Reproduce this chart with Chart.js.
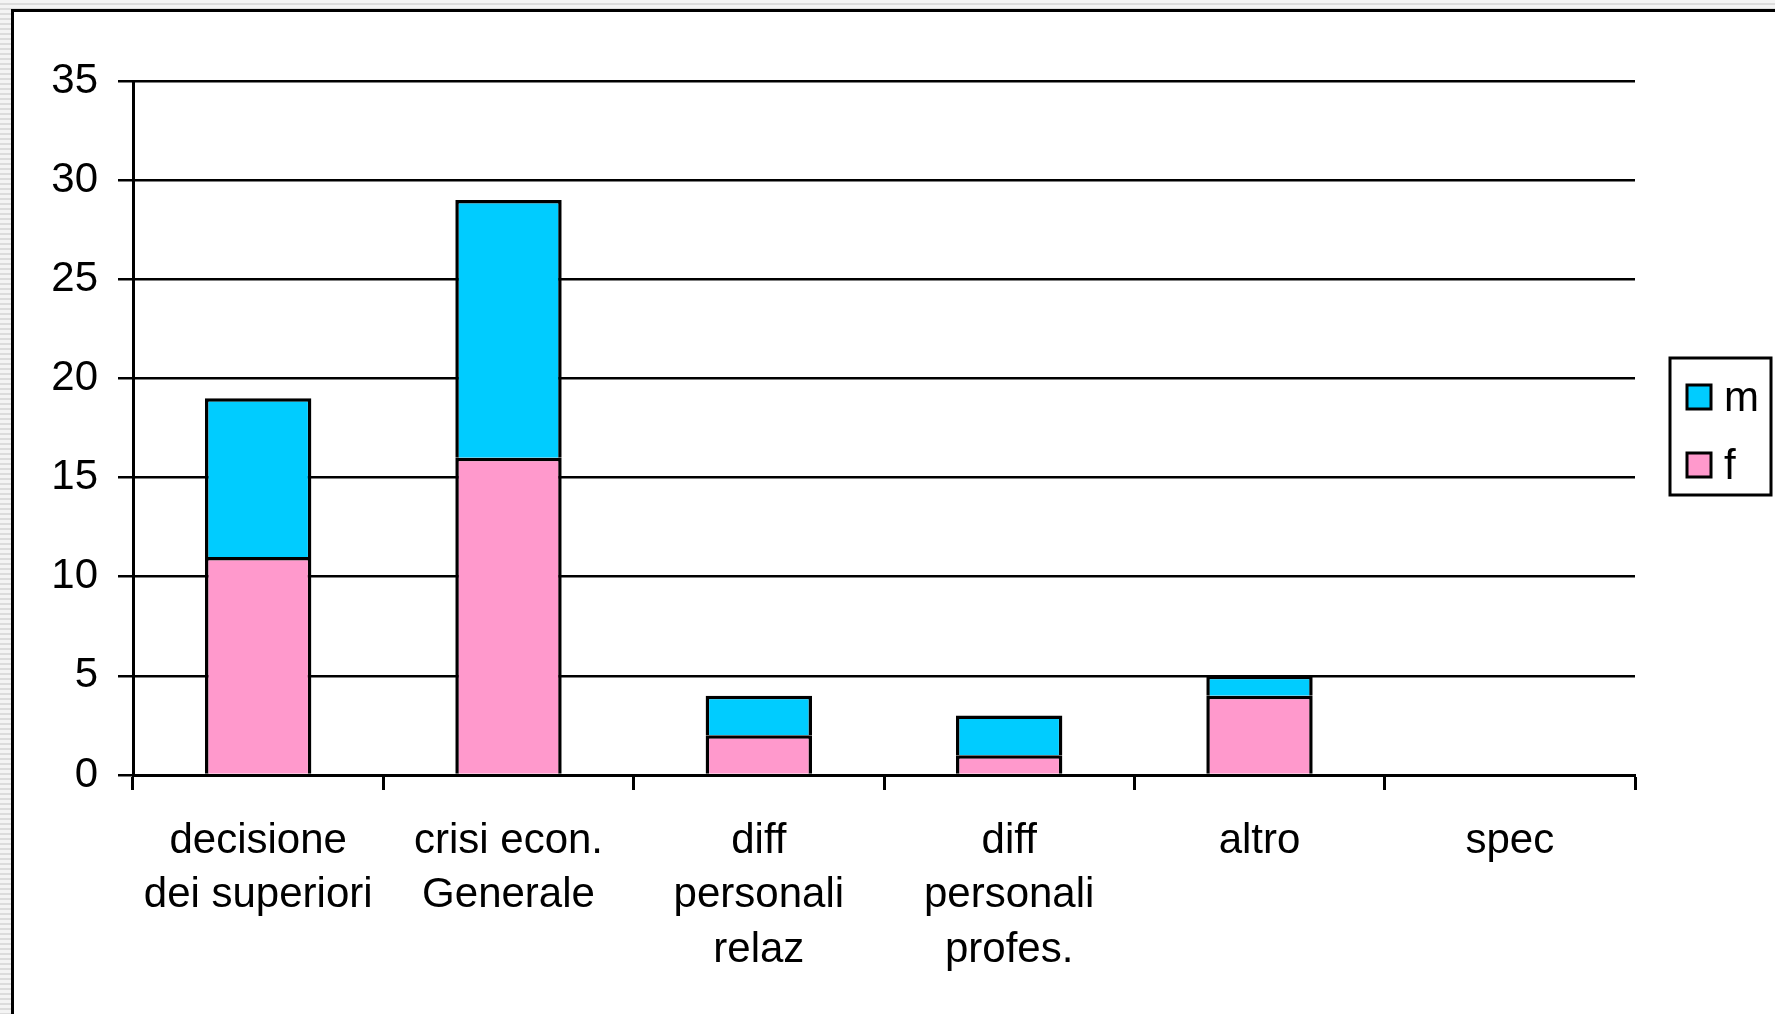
<!DOCTYPE html>
<html>
<head>
<meta charset="utf-8">
<script src="https://cdn.jsdelivr.net/npm/chart.js@4/dist/chart.umd.min.js"></script>
<style>
  html, body { margin: 0; padding: 0; }
  body {
    width: 1775px; height: 1014px; overflow: hidden; position: relative;
    background: repeating-linear-gradient(180deg, #f4f4f4 0px, #f4f4f4 3px, #dcdcdc 3px, #dcdcdc 5px);
  }
  .frame {
    position: absolute; left: 11px; top: 9px; width: 1800px; height: 1100px;
    background: #fff; border-left: 3px solid #000; border-top: 3px solid #000;
  }
  #chart { position: absolute; left: 0; top: 0; }
</style>
</head>
<body>
<div class="frame"></div>
<canvas id="chart" width="1775" height="1014"></canvas>

<script>
/* =========================
   DATA
========================= */
const categories = [
  ["decisione", "dei superiori"],
  ["crisi econ.", "Generale"],
  ["diff", "personali", "relaz"],
  ["diff", "personali", "profes."],
  ["altro"],
  ["spec"]
];
const femmine = [11, 16, 2, 1, 4, 0];
const maschi  = [8, 13, 2, 2, 1, 0];
const yTicks  = [0, 5, 10, 15, 20, 25, 30, 35];

const FONT = "'Liberation Sans', Arial, sans-serif";

/* =========================
   LEGEND BOX (drawn next to plot)
========================= */
const boxLegend = {
  id: "boxLegend",
  afterDraw(chart) {
    const ctx = chart.ctx;
    const area = chart.chartArea;
    const cy = (area.top + area.bottom) / 2;
    const x = area.right + 35;
    const y = cy - 70;

    ctx.save();
    ctx.lineWidth = 3;
    ctx.strokeStyle = "#000";
    ctx.strokeRect(x, y, 101, 137);

    const items = chart.data.datasets.slice().reverse();
    ctx.font = "42px " + FONT;
    ctx.textBaseline = "alphabetic";
    items.forEach((ds, i) => {
      const sy = y + 27 + i * 68;
      ctx.fillStyle = ds.backgroundColor;
      ctx.fillRect(x + 17, sy, 24, 24);
      ctx.lineWidth = 3;
      ctx.strokeRect(x + 17, sy, 24, 24);
      ctx.fillStyle = "#000";
      ctx.fillText(ds.label, x + 54, sy + 26);
    });
    ctx.restore();
  }
};

/* =========================
   CHART
========================= */
new Chart(document.getElementById("chart"), {
  type: "bar",
  data: {
    labels: categories,
    datasets: [
      {
        label: "f",
        data: femmine,
        backgroundColor: "#FF99CC",
        borderColor: "#000",
        borderWidth: 3.5
      },
      {
        label: "m",
        data: maschi,
        backgroundColor: "#00CCFF",
        borderColor: "#000",
        borderWidth: 3.5
      }
    ]
  },
  options: {
    responsive: false,
    devicePixelRatio: 1,
    animation: false,
    barPercentage: 0.425,
    categoryPercentage: 1,
    layout: { padding: { top: 81, right: 140, left: 0, bottom: 0 } },
    plugins: {
      legend: { display: false },
      tooltip: { enabled: false }
    },
    scales: {
      x: {
        stacked: true,
        afterFit: s => { s.height = 239; },
        grid: {
          offset: true,
          drawOnChartArea: false,
          drawTicks: true,
          tickLength: 15,
          tickWidth: 3,
          color: "#000"
        },
        border: { color: "#000", width: 3 },
        ticks: {
          color: "#000",
          padding: 24,
          maxRotation: 0,
          autoSkip: false,
          font: { family: FONT, size: 42, lineHeight: 1.3 }
        }
      },
      y: {
        stacked: true,
        min: yTicks[0],
        max: yTicks[yTicks.length - 1],
        afterFit: s => { s.width = 133; },
        afterBuildTicks: s => { s.ticks = yTicks.map(v => ({ value: v })); },
        grid: {
          color: "#000",
          lineWidth: 2.5,
          tickLength: 15
        },
        border: { color: "#000", width: 3 },
        ticks: {
          color: "#000",
          padding: 20,
          font: { family: FONT, size: 42 }
        }
      }
    }
  },
  plugins: [boxLegend]
});
</script>
</body>
</html>
